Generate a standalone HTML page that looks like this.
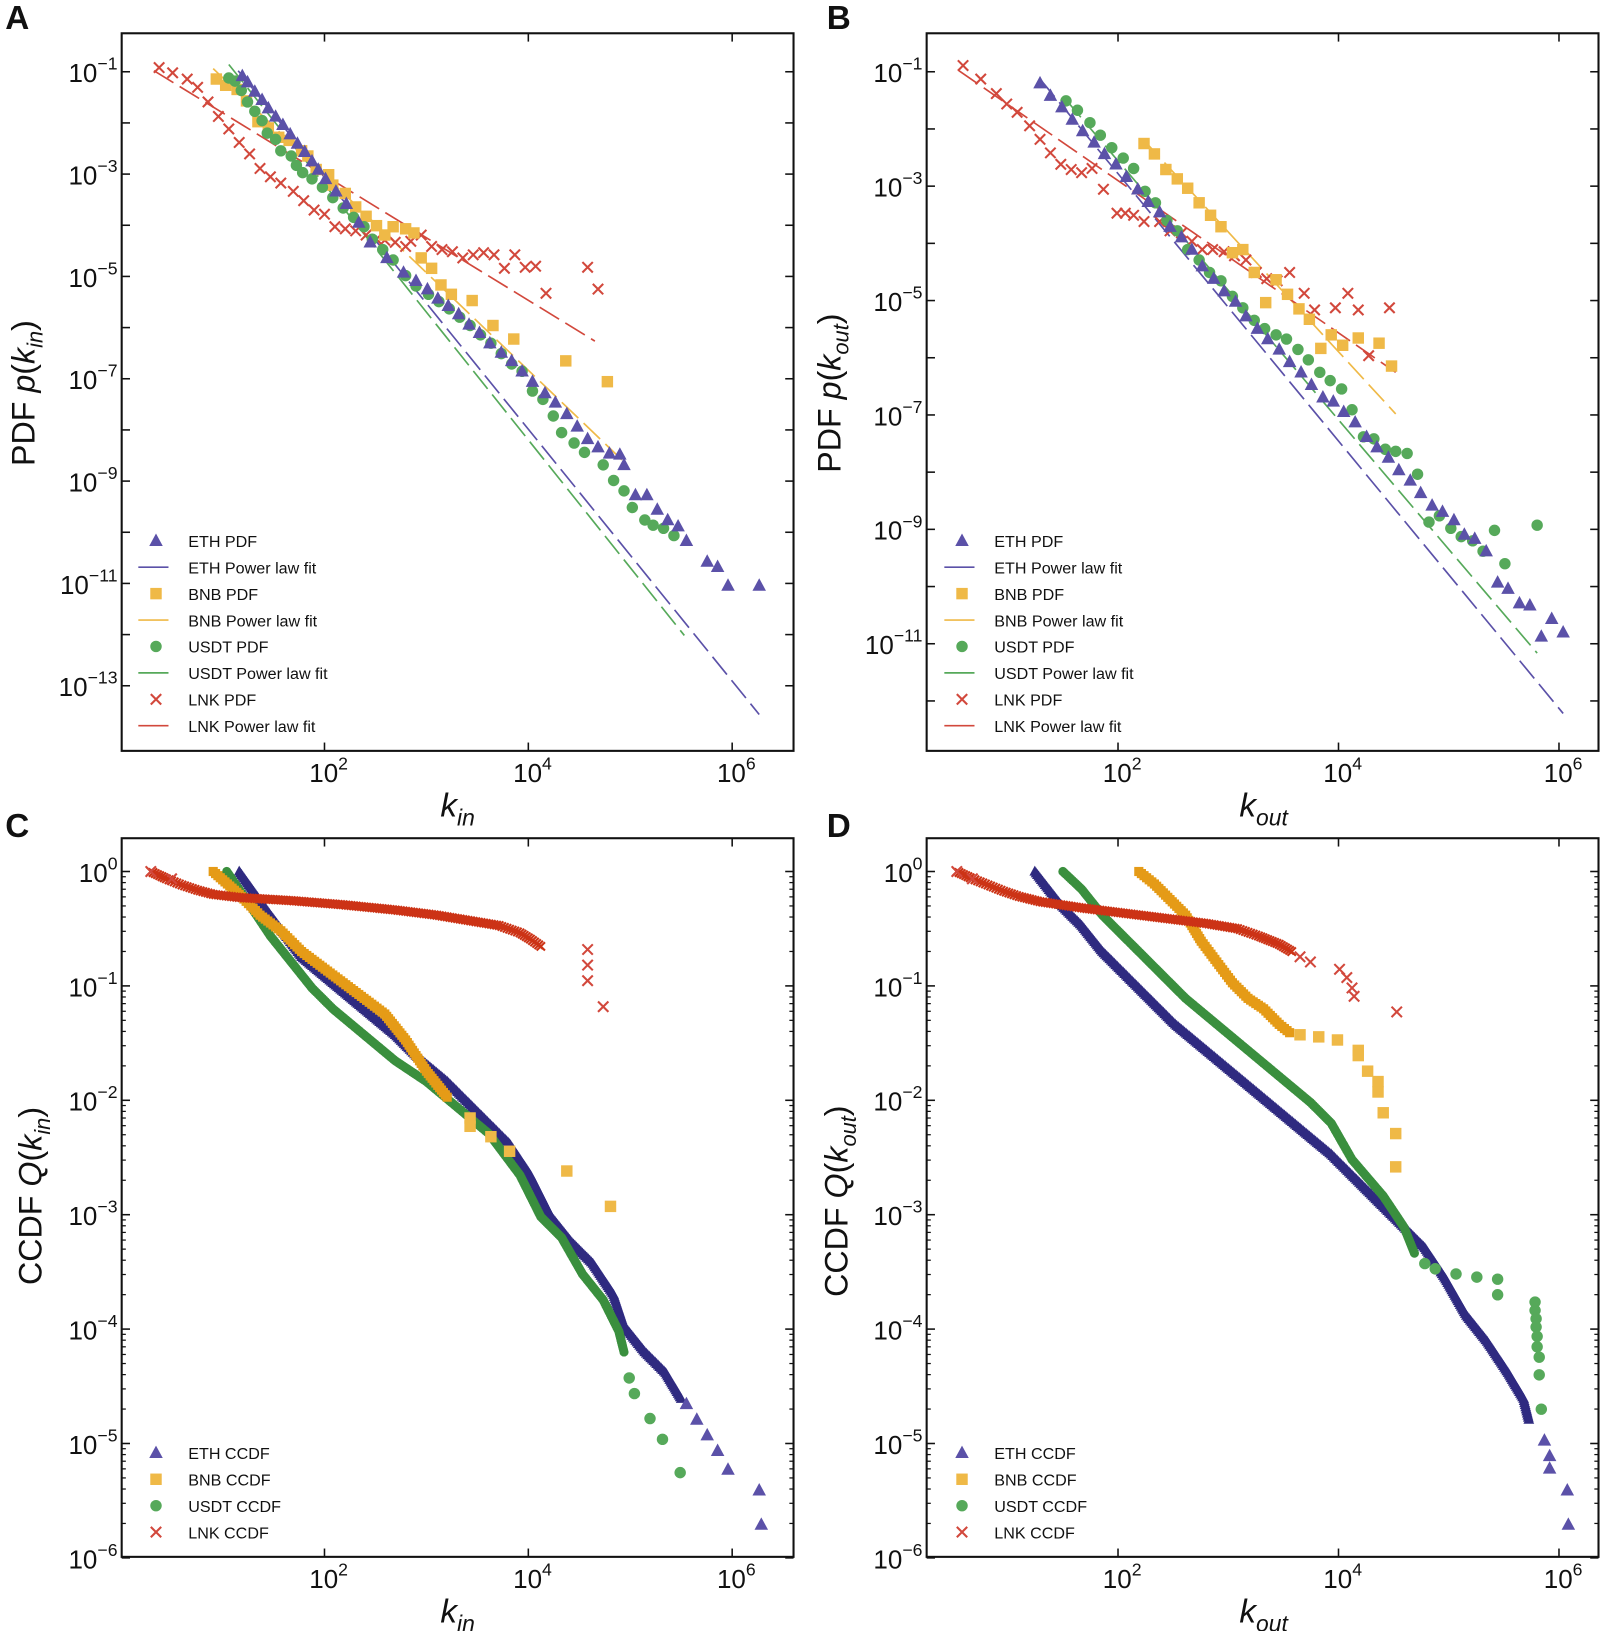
<!DOCTYPE html>
<html><head><meta charset="utf-8"><style>
html,body{margin:0;padding:0;background:#fff}
svg{display:block}
text{font-family:"Liberation Sans","DejaVu Sans",sans-serif;fill:#111}
</style></head><body>
<svg id="s" width="1601" height="1631" viewBox="0 0 1539.4 1568.3" preserveAspectRatio="none" xmlns="http://www.w3.org/2000/svg"></svg>
<script>
var S=document.getElementById('s');var NS='http://www.w3.org/2000/svg';
function el(t,a,txt){var e=document.createElementNS(NS,t);for(var k in a)e.setAttribute(k,a[k]);if(txt!=null)e.textContent=txt;S.appendChild(e);return e;}
var C={eth:'#5b51a8',bnb:'#efb947',usdt:'#56a95a',lnk:'#d2483c'};
var D={eth:'#2f2a80',bnb:'#e59b17',usdt:'#3a8f3e',lnk:'#cc3316'};
function mk(type,x,y,col,k){k=k||1;
 if(type=='eth')el('polygon',{points:(x)+','+(y-7*k)+' '+(x-6.5*k)+','+(y+5*k)+' '+(x+6.5*k)+','+(y+5*k),fill:col});
 else if(type=='bnb')el('rect',{x:x-5.5*k,y:y-5.5*k,width:11*k,height:11*k,fill:col});
 else if(type=='usdt')el('circle',{cx:x,cy:y,r:5.5*k,fill:col});
 else el('path',{d:'M'+(x-5*k)+' '+(y-5*k)+'L'+(x+5*k)+' '+(y+5*k)+'M'+(x+5*k)+' '+(y-5*k)+'L'+(x-5*k)+' '+(y+5*k),stroke:col,'stroke-width':2,fill:'none'});
}
function pts(type,arr,col){for(var i=0;i<arr.length;i+=2)mk(type,arr[i],arr[i+1],col||C[type]);}
function dense(type,arr,col,step){step=step||2;for(var i=0;i<arr.length-2;i+=2){var x0=arr[i],y0=arr[i+1],x1=arr[i+2],y1=arr[i+3];var L=Math.hypot(x1-x0,y1-y0);var n=Math.max(1,Math.round(L/step));for(var j=0;j<n;j++){mk(type,x0+(x1-x0)*j/n,y0+(y1-y0)*j/n,col,0.8);}}mk(type,arr[arr.length-2],arr[arr.length-1],col,0.8);}
function fit(x0,y0,x1,y1,col){el('line',{x1:x0,y1:y0,x2:x1,y2:y1,stroke:col,'stroke-width':1.6,'stroke-dasharray':'22,7'});}
function pow(x,y,e,anchor){var t=el('text',{x:x,y:y,'font-size':25,'text-anchor':anchor});t.innerHTML='10<tspan font-size="17" dy="-12">'+String(e).replace('-','\u2212')+'</tspan>';}
function axes(x0,y0,x1,y1,xdec0,xdec,ylab,ydec){
 el('rect',{x:x0,y:y0,width:x1-x0,height:y1-y0,fill:'none',stroke:'#111','stroke-width':2});
 [2,4,6].forEach(function(e){var x=xdec0+e*xdec;el('line',{x1:x,y1:y1,x2:x,y2:y1-8,stroke:'#111','stroke-width':1.5});el('line',{x1:x,y1:y0,x2:x,y2:y0+8,stroke:'#111','stroke-width':1.5});
  pow(x+4,y1+30,e,'middle');});
 ylab.forEach(function(p){var y=p[0];el('line',{x1:x0,y1:y,x2:x0+8,y2:y,stroke:'#111','stroke-width':1.5});el('line',{x1:x1,y1:y,x2:x1-8,y2:y,stroke:'#111','stroke-width':1.5});
  if(p[2]!==false)pow(x0-4,y+10,p[1],'end');
  if(ydec){for(var m=2;m<10;m++){var yy=y-Math.log10(m)*ydec;if(yy>y0+2){el('line',{x1:x0,y1:yy,x2:x0+4,y2:yy,stroke:'#111','stroke-width':1.2});el('line',{x1:x1,y1:yy,x2:x1-4,y2:yy,stroke:'#111','stroke-width':1.2});}}}
 });
}
function legend(x,y0,items,dy){items.forEach(function(it,i){var y=y0+i*dy;if(it[1]=='line')el('line',{x1:x-17,y1:y,x2:x+12,y2:y,stroke:C[it[0]],'stroke-width':1.6});else mk(it[0],x,y,C[it[0]]);el('text',{x:x+31,y:y+6,'font-size':15.5},it[2]);});}
function ylabel(x,y,pre,fn,sub){var t=el('text',{transform:'translate('+x+','+y+') rotate(-90)','font-size':31,'text-anchor':'middle'});t.innerHTML=pre+' <tspan font-style="italic">'+fn+'</tspan>(<tspan font-style="italic">k</tspan><tspan font-style="italic" font-size="21" dy="8">'+sub+'</tspan><tspan dy="-8">)</tspan>';}
function xlabel(x,y,sub){var t=el('text',{x:x,y:y,'font-size':32,'text-anchor':'middle'});t.innerHTML='<tspan font-style="italic">k</tspan><tspan font-style="italic" font-size="22" dy="9">'+sub+'</tspan>';}
[['A',5,28],['B',795,28],['C',5,805],['D',795,805]].forEach(function(l){el('text',{x:l[1],y:l[2],'font-size':32,'font-weight':'bold'},l[0]);});
var ya=[];for(var e=-1;e>=-13;e--)ya.push([69+(-1-e)*49.2,e,e%2!=0]);
axes(117,32,763,722,116,98,ya,0);
var yb=[];for(var e=-1;e>=-12;e--)yb.push([69+(-1-e)*55,e,e%2!=0]);
axes(891,32,1537,722,863,106,yb,0);
var yc=[];for(var e=0;e>=-6;e--)yc.push([838-e*110,e,true]);
axes(117,806,763,1497,116,98,yc,110);
axes(891,806,1537,1497,863,106,yc,110);
ylabel(33,378,'PDF','p','in');ylabel(808,378,'PDF','p','out');
ylabel(40,1150,'CCDF','Q','in');ylabel(815,1155,'CCDF','Q','out');
xlabel(440,785,'in');xlabel(1215,785,'out');xlabel(440,1560,'in');xlabel(1215,1560,'out');
fit(229,68,730,687,C.eth);fit(220,62,658,611,C.usdt);fit(205,66,602,446,C.bnb);fit(148,68,572,328,C.lnk);
pts('lnk',[153,65,166,70,180,76,190,84,200,98,210,112,220,124,230,137,240,148,250,162,260,170,270,176,282,184,292,193,302,202,312,206,322,218,332,220,342,222,352,226,362,230,370,231,380,233,390,237,395,232,405,226,415,237,425,240,435,242,445,248,455,245,465,243,475,245,485,258,495,245,505,257,515,256,525,282,565,257,575,278]);
pts('bnb',[208,76,217,82,228,86,237,97,248,117,258,123,268,132,278,135,290,145,296,150,304,163,316,168,320,178,332,186,342,199,352,208,362,217,370,226,378,218,390,220,398,224,405,248,415,258,424,274,434,283,454,289,474,313,494,326,544,347,584,367]);
pts('usdt',[220,75,226,78,232,87,238,98,245,107,252,116,257,128,265,134,270,145,280,150,285,159,291,166,300,172,310,180,320,190,330,200,340,209,350,218,358,230,368,240,378,250,390,265,400,275,412,283,422,290,432,297,442,305,452,313,462,322,472,330,482,340,492,350,502,357,512,376,522,384,532,400,540,416,552,426,562,435,580,447,590,462,600,472,608,488,620,500,628,505,638,508,648,515]);
pts('eth',[233,73,238,79,245,88,252,96,258,104,265,112,272,120,279,129,286,138,293,146,300,155,306,163,313,172,323,184,333,196,345,214,356,233,372,248,388,262,400,270,411,278,421,287,431,294,441,302,451,312,461,320,471,330,482,339,492,347,502,357,512,367,524,378,534,387,545,398,555,410,565,422,575,430,586,436,596,437,600,447,611,476,622,476,632,490,642,500,652,506,660,520,680,540,690,545,700,563,730,563]);
legend(150,520,[['eth','m','ETH PDF'],['eth','line','ETH Power law fit'],['bnb','m','BNB PDF'],['bnb','line','BNB Power law fit'],['usdt','m','USDT PDF'],['usdt','line','USDT Power law fit'],['lnk','m','LNK PDF'],['lnk','line','LNK Power law fit']],25.4);
fit(1000,76,1503,686,C.eth);fit(1025,96,1478,628,C.usdt);fit(1100,135,1342,398,C.bnb);fit(922,68,1342,358,C.lnk);
pts('lnk',[926,63,943,76,958,90,968,100,978,108,990,121,1000,134,1010,147,1020,158,1030,163,1040,166,1050,162,1061,182,1074,205,1082,205,1090,207,1100,213,1115,213,1125,222,1136,224,1146,232,1156,240,1166,240,1177,242,1187,246,1198,250,1208,262,1218,268,1228,270,1240,262,1254,282,1264,298,1284,296,1296,282,1306,298,1316,342,1336,296]);
pts('bnb',[1100,138,1110,148,1121,163,1132,172,1142,181,1153,195,1164,207,1174,218,1185,243,1195,240,1206,262,1217,291,1227,269,1238,283,1249,297,1259,307,1270,335,1280,322,1291,332,1306,325,1326,330,1338,352]);
pts('usdt',[1025,97,1036,106,1048,118,1058,130,1069,142,1080,152,1090,162,1101,184,1111,195,1122,212,1132,222,1142,240,1153,250,1163,262,1174,270,1185,285,1195,296,1206,308,1216,316,1227,322,1237,326,1248,336,1258,346,1269,358,1279,366,1290,374,1300,394,1311,420,1321,422,1332,432,1342,434,1353,436,1363,456,1374,502,1384,496,1395,508,1405,516,1416,520,1426,530,1437,510,1447,542,1478,505]);
pts('eth',[1000,80,1010,92,1021,103,1031,115,1041,126,1052,137,1062,148,1073,158,1083,170,1094,182,1104,194,1115,204,1125,218,1136,228,1146,240,1156,256,1167,268,1177,280,1188,290,1198,304,1209,316,1219,326,1230,336,1240,348,1251,358,1261,370,1272,382,1282,386,1292,396,1303,406,1314,420,1324,430,1335,440,1345,452,1356,462,1366,474,1377,486,1387,492,1398,500,1408,514,1418,518,1429,530,1440,560,1450,566,1461,580,1471,582,1482,612,1492,595,1503,608]);
legend(925,520,[['eth','m','ETH PDF'],['eth','line','ETH Power law fit'],['bnb','m','BNB PDF'],['bnb','line','BNB Power law fit'],['usdt','m','USDT PDF'],['usdt','line','USDT Power law fit'],['lnk','m','LNK PDF'],['lnk','line','LNK Power law fit']],25.4);
dense('eth',[230,838,260,880,290,920,320,945,350,970,380,995,400,1015,430,1040,460,1070,490,1100,510,1130,530,1170,550,1195,570,1215,590,1245,600,1275,620,1300,640,1320,655,1345],D.eth);
pts('eth',[660,1350,670,1365,680,1380,690,1395,700,1413,730,1433,732,1466]);
dense('usdt',[218,838,240,870,260,900,280,925,300,950,320,970,350,995,380,1020,410,1040,440,1065,470,1090,500,1130,520,1170,540,1190,560,1225,580,1250,595,1280,600,1300],D.usdt);
pts('usdt',[605,1325,610,1340,625,1364,637,1384,654,1416]);
dense('bnb',[205,838,230,860,250,880,270,895,290,915,310,930,330,945,350,960,370,975,390,1000,410,1030,430,1055],D.bnb,3);
pts('bnb',[452,1075,452,1083,472,1093,490,1107,545,1126,587,1160]);
dense('lnk',[145,838,160,845,175,851,190,856,205,860,230,863,280,866,330,870,380,875,420,880,450,885,480,890,500,897,510,903,520,910],D.lnk,2.5);
pts('lnk',[145,838,165,845,565,913,565,928,565,943,580,968]);
legend(150,1397,[['eth','m','ETH CCDF'],['bnb','m','BNB CCDF'],['usdt','m','USDT CCDF'],['lnk','m','LNK CCDF']],25.4);
dense('eth',[995,838,1020,870,1040,890,1060,915,1080,935,1100,955,1130,985,1160,1010,1190,1035,1220,1060,1250,1085,1280,1110,1310,1140,1340,1170,1370,1200,1390,1230,1410,1265,1430,1290,1450,1320,1465,1345,1470,1365],D.eth);
pts('eth',[1485,1385,1490,1400,1490,1412,1507,1433,1508,1466]);
dense('usdt',[1022,838,1040,855,1060,880,1080,900,1110,930,1140,960,1170,985,1200,1010,1230,1035,1260,1060,1280,1080,1300,1115,1330,1150,1350,1180,1360,1205],D.usdt);
pts('usdt',[1370,1215,1380,1220,1400,1225,1420,1228,1440,1230,1440,1245,1476,1252,1476,1260,1477,1268,1477,1276,1478,1285,1478,1295,1480,1305,1480,1322,1482,1355]);
dense('bnb',[1095,838,1110,850,1125,865,1140,880,1155,905,1170,925,1185,945,1200,960,1215,970,1230,985,1240,993],D.bnb,3);
pts('bnb',[1250,995,1268,997,1286,1000,1306,1010,1306,1015,1315,1030,1325,1040,1325,1050,1330,1070,1342,1090,1342,1122]);
dense('lnk',[920,838,935,845,950,851,965,857,980,862,1000,867,1040,873,1080,878,1120,883,1160,888,1190,893,1210,900,1230,908,1242,915],D.lnk,2.5);
pts('lnk',[920,838,935,845,1250,920,1260,925,1288,932,1295,940,1300,950,1302,958,1343,973]);
legend(925,1397,[['eth','m','ETH CCDF'],['bnb','m','BNB CCDF'],['usdt','m','USDT CCDF'],['lnk','m','LNK CCDF']],25.4);
</script>
</body></html>
